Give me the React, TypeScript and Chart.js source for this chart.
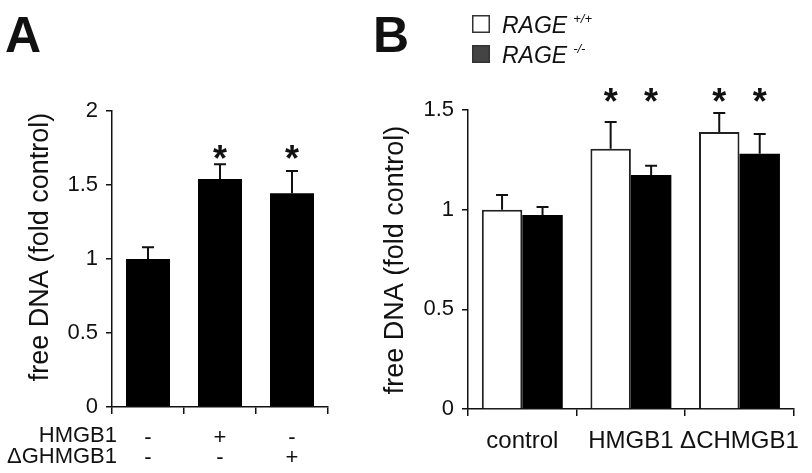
import React, { useEffect, useRef } from "react";
import { Chart, registerables } from "chart.js";

Chart.register(...registerables);

const FONT = "'Liberation Sans', Arial, Helvetica, sans-serif";
const INK = "#111111";

// ---------- Panel A data ----------
const categoriesA = [["-", "-"], ["+", "-"], ["-", "+"]];
const rowLabelsA = ["HMGB1", "ΔGHMGB1"];
const valuesA = [1.0, 1.54, 1.445];
const errorsA = [0.08, 0.1, 0.15];
const significantA = [false, true, true];
const ticksA = [0, 0.5, 1, 1.5, 2];

// ---------- Panel B data ----------
const categoriesB = ["control", "HMGB1", "ΔCHMGB1"];
const seriesNamesB = ["RAGE", "RAGE"];
const seriesSupB = ["+/+", "-/-"];
const wildTypeB = [1.0, 1.305, 1.39];
const wildTypeErrB = [0.074, 0.135, 0.095];
const knockoutB = [0.973, 1.174, 1.28];
const knockoutErrB = [0.04, 0.046, 0.1];
const significantWtB = [false, true, true];
const significantKoB = [false, true, true];
const ticksB = [0, 0.5, 1, 1.5];

const yTitle = "free DNA (fold control)";

const errorBarPlugin = {
  id: "errorBars",
  afterDatasetsDraw(chart: any, _args: any, opts: any) {
    const ctx = chart.ctx;
    const y = chart.scales.y;
    chart.data.datasets.forEach((ds: any, i: number) => {
      const meta = chart.getDatasetMeta(i);
      meta.data.forEach((bar: any, j: number) => {
        const v = ds.data[j];
        const e = ds.errors[j];
        const yBar = y.getPixelForValue(v);
        const yTop = y.getPixelForValue(v + e);
        ctx.save();
        ctx.strokeStyle = INK;
        ctx.lineWidth = 2;
        ctx.beginPath();
        ctx.moveTo(bar.x, yBar);
        ctx.lineTo(bar.x, yTop);
        ctx.moveTo(bar.x - 6, yTop);
        ctx.lineTo(bar.x + 6, yTop);
        ctx.stroke();
        if (ds.sig[j]) {
          const size = 36;
          ctx.fillStyle = INK;
          ctx.font = `bold ${size}px ${FONT}`;
          ctx.textAlign = "center";
          ctx.textBaseline = "alphabetic";
          ctx.fillText("*", bar.x, y.getPixelForValue(opts.starLevel) + 0.58 * size);
        }
        ctx.restore();
      });
    });
  },
};

function drawYTitle(ctx: CanvasRenderingContext2D, cx: number, cy: number) {
  ctx.save();
  ctx.translate(cx, cy);
  ctx.rotate(-Math.PI / 2);
  ctx.fillStyle = INK;
  ctx.font = `27px ${FONT}`;
  ctx.textAlign = "center";
  ctx.textBaseline = "middle";
  ctx.fillText(yTitle, 0, 0);
  ctx.restore();
}

function drawLetter(ctx: CanvasRenderingContext2D, t: string, x: number, y: number) {
  ctx.save();
  ctx.fillStyle = INK;
  ctx.font = `bold 50px ${FONT}`;
  ctx.textAlign = "left";
  ctx.textBaseline = "alphabetic";
  ctx.fillText(t, x, y);
  ctx.restore();
}

const axisCommon = (tickLength: number) => ({
  grid: {
    drawOnChartArea: false,
    drawTicks: true,
    tickLength,
    color: INK,
    lineWidth: 1.5,
  },
  border: { display: true, color: INK, width: 1.5 },
});

const plainNumber = (v: any) => String(Number(v));

export default function App() {
  const refA = useRef<HTMLCanvasElement>(null);
  const refB = useRef<HTMLCanvasElement>(null);

  useEffect(() => {
    const decoA = {
      id: "decoA",
      afterDraw(chart: any) {
        const ctx = chart.ctx;
        drawLetter(ctx, "A", 5, 52);
        drawYTitle(ctx, 41, 247);
        ctx.save();
        ctx.fillStyle = INK;
        ctx.font = `22px ${FONT}`;
        ctx.textAlign = "right";
        ctx.textBaseline = "middle";
        ctx.fillText(rowLabelsA[0], 117, 436);
        ctx.fillText(rowLabelsA[1], 117, 457);
        ctx.restore();
      },
    };
    const chartA = new Chart(refA.current as HTMLCanvasElement, {
      type: "bar",
      data: {
        labels: categoriesA as any,
        datasets: [
          {
            data: valuesA,
            backgroundColor: "#000000",
            borderWidth: 0,
            barPercentage: 1,
            categoryPercentage: 44 / 72,
            errors: errorsA,
            sig: significantA,
          } as any,
        ],
      },
      options: {
        responsive: false,
        animation: false,
        devicePixelRatio: 1,
        layout: { padding: { left: 0, top: 111, right: 32, bottom: 0 } },
        plugins: {
          legend: { display: false },
          tooltip: { enabled: false },
          errorBars: { starLevel: 1.737 },
        } as any,
        scales: {
          x: {
            ...axisCommon(7),
            grid: { ...axisCommon(7).grid, offset: true },
            ticks: {
              color: INK,
              font: { family: FONT, size: 22, lineHeight: 0.95 },
              padding: 13,
              maxRotation: 0,
              autoSkip: false,
            },
            afterFit: (s: any) => {
              s.height = 66;
            },
          } as any,
          y: {
            ...axisCommon(6),
            min: 0,
            max: 2,
            afterBuildTicks: (s: any) => {
              s.ticks = ticksA.map((v) => ({ value: v }));
            },
            ticks: {
              color: INK,
              font: { family: FONT, size: 22 },
              padding: 8,
              callback: plainNumber,
            },
            afterFit: (s: any) => {
              s.width = 112;
            },
          } as any,
        },
      },
      plugins: [errorBarPlugin, decoA],
    });

    const decoB = {
      id: "decoB",
      afterDraw(chart: any) {
        const ctx = chart.ctx;
        drawLetter(ctx, "B", 13, 52);
        drawYTitle(ctx, 36, 260);
        const fills = ["#ffffff", "#444444"];
        const tops = [15, 45];
        ctx.save();
        for (let i = 0; i < 2; i++) {
          ctx.fillStyle = fills[i];
          ctx.fillRect(112, tops[i], 18, 18);
          ctx.strokeStyle = "#333333";
          ctx.lineWidth = 1.5;
          ctx.strokeRect(112.75, tops[i] + 0.75, 16.5, 16.5);
          ctx.fillStyle = INK;
          ctx.textAlign = "left";
          ctx.textBaseline = "alphabetic";
          ctx.font = `italic 23px ${FONT}`;
          const base = tops[i] + 18;
          ctx.fillText(seriesNamesB[i], 142, base);
          const w = ctx.measureText(seriesNamesB[i]).width;
          ctx.font = `italic 13px ${FONT}`;
          ctx.fillText(seriesSupB[i], 142 + w + 6, base - 10);
        }
        ctx.restore();
      },
    };
    const chartB = new Chart(refB.current as HTMLCanvasElement, {
      type: "bar",
      data: {
        labels: categoriesB,
        datasets: [
          {
            data: wildTypeB,
            backgroundColor: "#ffffff",
            borderColor: "#222222",
            borderWidth: 2,
            barPercentage: 1,
            categoryPercentage: 82 / 110,
            errors: wildTypeErrB,
            sig: significantWtB,
          } as any,
          {
            data: knockoutB,
            backgroundColor: "#000000",
            borderWidth: 0,
            barPercentage: 1,
            categoryPercentage: 82 / 110,
            errors: knockoutErrB,
            sig: significantKoB,
          } as any,
        ],
      },
      options: {
        responsive: false,
        animation: false,
        devicePixelRatio: 1,
        layout: { padding: { left: 0, top: 110, right: 13, bottom: 0 } },
        plugins: {
          legend: { display: false },
          tooltip: { enabled: false },
          errorBars: { starLevel: 1.585 },
        } as any,
        scales: {
          x: {
            ...axisCommon(7),
            grid: { ...axisCommon(7).grid, offset: true },
            ticks: {
              color: INK,
              font: { family: FONT, size: 24 },
              padding: 11,
              maxRotation: 0,
              autoSkip: false,
            },
            afterFit: (s: any) => {
              s.height = 64;
            },
          } as any,
          y: {
            ...axisCommon(6),
            min: 0,
            max: 1.5,
            afterBuildTicks: (s: any) => {
              s.ticks = ticksB.map((v) => ({ value: v }));
            },
            ticks: {
              color: INK,
              font: { family: FONT, size: 22 },
              padding: 8,
              callback: plainNumber,
            },
            afterFit: (s: any) => {
              s.width = 108;
            },
          } as any,
        },
      },
      plugins: [errorBarPlugin, decoB],
    });

    return () => {
      chartA.destroy();
      chartB.destroy();
    };
  }, []);

  return (
    <div
      style={{
        position: "absolute",
        left: 0,
        top: 0,
        width: 812,
        height: 473,
        background: "#ffffff",
        overflow: "hidden",
      }}
    >
      <canvas
        ref={refA}
        width={360}
        height={473}
        style={{ position: "absolute", left: 0, top: 0, width: 360, height: 473 }}
      />
      <canvas
        ref={refB}
        width={452}
        height={473}
        style={{ position: "absolute", left: 360, top: 0, width: 452, height: 473 }}
      />
    </div>
  );
}
